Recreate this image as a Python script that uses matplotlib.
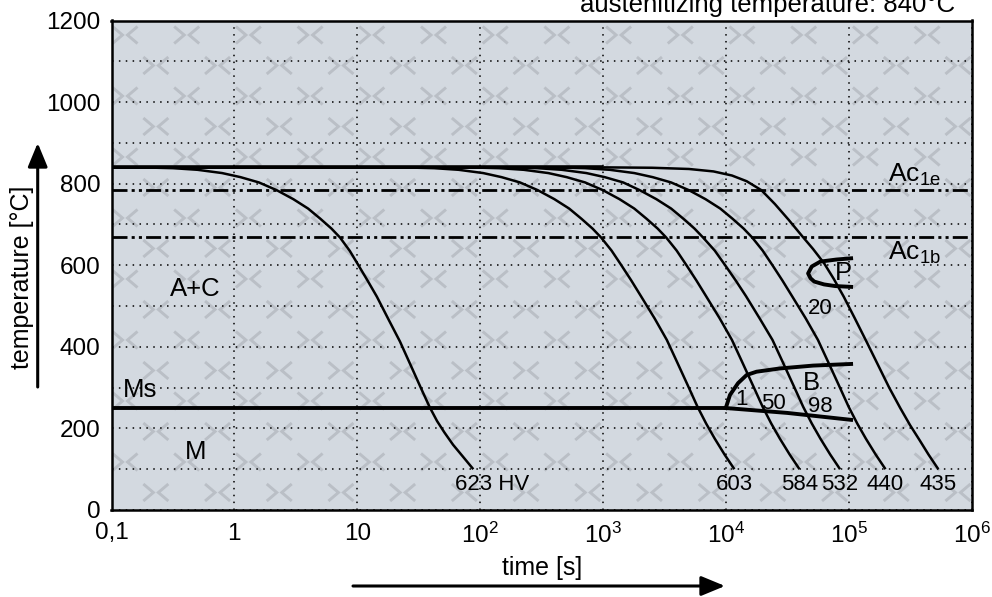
import matplotlib
matplotlib.use('Agg')
import matplotlib.pyplot as plt
import numpy as np
from matplotlib.collections import LineCollection

plt.rcParams['font.family'] = ['Liberation Sans', 'DejaVu Sans']
plt.rcParams['mathtext.fontset'] = 'custom'
plt.rcParams['mathtext.rm'] = 'Liberation Sans'
plt.rcParams['mathtext.default'] = 'regular'

# cooling curves: log10(time [s]) and temperature [C]
c623_lt = [-1, -0.7, -0.5, -0.3, -0.1, 0.05, 0.2, 0.345, 0.48, 0.6, 0.7, 0.79, 0.86, 0.94, 1.01,
           1.085, 1.16, 1.25, 1.348, 1.45, 1.52, 1.59, 1.65, 1.71, 1.78, 1.86, 1.945]
c623_T = [840, 839.5, 838, 834, 826, 816, 803, 784, 762, 739, 714, 690, 668, 635, 600,
          562, 523, 470, 413, 345, 298, 252, 218, 190, 160, 131, 100]
c603_lt = [-1, 1.0, 1.425, 1.625, 1.825, 2.025, 2.175, 2.325, 2.47, 2.605, 2.725, 2.825, 2.915, 2.985,
           3.07, 3.15, 3.23, 3.31, 3.42, 3.52, 3.6, 3.69, 3.77, 3.84, 3.91, 3.99, 4.07]
c584_lt = [-1, 1.5, 1.955, 2.155, 2.355, 2.555, 2.705, 2.855, 3.0, 3.135, 3.255, 3.355, 3.445, 3.515,
           3.6, 3.68, 3.76, 3.84, 3.95, 4.05, 4.13, 4.22, 4.30, 4.37, 4.44, 4.52, 4.60]
c532_lt = [-1, 1.9, 2.265, 2.465, 2.665, 2.865, 3.015, 3.165, 3.30, 3.435, 3.555, 3.655, 3.745, 3.815,
           3.91, 3.995, 4.08, 4.165, 4.275, 4.38, 4.46, 4.55, 4.63, 4.70, 4.77, 4.85, 4.93]
c440_lt = [-1, 2.3, 2.655, 2.855, 3.055, 3.255, 3.405, 3.555, 3.70, 3.835, 3.955, 4.055, 4.145, 4.215,
           4.30, 4.38, 4.46, 4.54, 4.65, 4.75, 4.83, 4.92, 5.00, 5.07, 5.14, 5.22, 5.30]
# the four middle curves share the same temperature readings
cmid_T = [840, 840, 839.5, 838, 834, 826, 816, 803, 784, 762, 739, 714, 690, 668,
          636, 600, 563, 524, 470, 417, 365, 306, 253, 212, 175, 136, 100]
c435_lt = [-1, 3.0, 3.4, 3.7, 3.9, 4.05, 4.17, 4.29, 4.40, 4.51, 4.62, 4.71, 4.80, 4.88,
           4.96, 5.05, 5.15, 5.24, 5.33, 5.42, 5.50, 5.58, 5.65, 5.73]
c435_T = [840, 840, 839, 836, 830, 820, 806, 784, 750, 712, 672, 640, 605, 566,
          523, 470, 410, 355, 300, 250, 208, 170, 136, 100]
hardness = ['623 HV', '603', '584', '532', '440', '435']

ac1e = 785
ac1b = 670
ms_lt = [-1, 4.0]
ms_T = [250, 250]
bf_lt = [4.0, 4.5, 5.02]
bf_T = [250, 238, 221]
bs_lt = [4.0, 4.034, 4.10, 4.17, 4.25, 4.44, 4.71, 5.02]
bs_T = [250, 282, 311, 331, 339, 347, 354, 358]
p_lt = [5.02, 4.9, 4.77, 4.70, 4.67, 4.69, 4.72, 4.8, 4.89, 5.02]
p_T = [617, 614, 609, 597, 580, 568, 560, 553, 549, 547]

xtick_vals = [0.1, 1, 10, 1e2, 1e3, 1e4, 1e5, 1e6]
xtick_labels = ['0,1', '1', '10', '$10^{2}$', '$10^{3}$', '$10^{4}$', '$10^{5}$', '$10^{6}$']

fig = plt.figure(figsize=(9.92, 5.97), dpi=100)
ax = fig.add_axes([111.5 / 992, 87 / 597, 860 / 992, 489.5 / 597])
ax.set_facecolor('#d3d9e0')

# background watermark "><"
segs = []
W, H = 860.0, 489.5
for i, yy in enumerate(np.arange(14.5, H + 20, 30.5)):
    off = 0 if i % 2 == 0 else 30.85
    for xx in np.arange(13.5 + off - 61.7, W + 30, 61.7):
        cy = H - yy
        segs.append([((xx - 12.5) / W, (cy + 8.5) / H), ((xx - 2.5) / W, cy / H), ((xx - 12.5) / W, (cy - 8.5) / H)])
        segs.append([((xx + 12.5) / W, (cy + 8.5) / H), ((xx + 2.5) / W, cy / H), ((xx + 12.5) / W, (cy - 8.5) / H)])
ax.add_collection(LineCollection(segs, colors='#babfc6', linewidths=2.1, transform=ax.transAxes,
                                 zorder=0.5, joinstyle='miter'))

ax.set_xscale('log')
ax.set_xlim(0.1, 1e6)
ax.set_ylim(0, 1200)
ax.set_xticks(xtick_vals)
ax.set_xticklabels(xtick_labels)
ax.xaxis.set_minor_locator(matplotlib.ticker.NullLocator())
ax.set_yticks(np.arange(0, 1201, 200))
ax.set_yticks(np.arange(0, 1201, 100), minor=True)
ax.tick_params(which='both', length=0, labelsize=17.5)
ax.tick_params(axis='x', pad=9)
ax.tick_params(axis='y', pad=8)
ax.grid(True, which='both', axis='y', color='black', linestyle=(0, (1, 3.5)), linewidth=1.1)
ax.grid(True, which='major', axis='x', color='black', linestyle=(0, (1, 3.5)), linewidth=1.1)
ax.set_axisbelow(True)
for s in ax.spines.values():
    s.set_linewidth(1.8)

curves = [(c623_lt, c623_T), (c603_lt, cmid_T), (c584_lt, cmid_T),
          (c532_lt, cmid_T), (c440_lt, cmid_T), (c435_lt, c435_T)]
for (lt, T), lab in zip(curves, hardness):
    t = 10 ** np.array(lt)
    ax.plot(t, T, color='black', lw=1.8, solid_capstyle='butt', solid_joinstyle='round')
    if lab.endswith('HV'):
        ax.annotate(lab, (t[-1], T[-1]), xytext=(-13, -11), textcoords='offset points',
                    ha='left', va='center', fontsize=16)
    else:
        ax.annotate(lab, (t[-1], T[-1]), xytext=(0, -11), textcoords='offset points',
                    ha='center', va='center', fontsize=16)
# common start at the austenitizing temperature, where the curves lie on top of each other
ax.plot(10 ** np.array(c435_lt[:2]), c435_T[:2], color='black', lw=2.6, solid_capstyle='butt')

dashdot2 = (0, (5.4, 1.5, 1.1, 1.5, 1.1, 1.5))
ax.axhline(ac1e, color='black', lw=2.0, linestyle=dashdot2)
ax.axhline(ac1b, color='black', lw=2.0, linestyle=dashdot2)

ax.plot(10 ** np.array(ms_lt), ms_T, color='black', lw=2.8)
ax.plot(10 ** np.array(bf_lt), bf_T, color='black', lw=2.8)
ax.plot(10 ** np.array(bs_lt), bs_T, color='black', lw=2.8, solid_joinstyle='round')
ax.plot(10 ** np.array(p_lt), p_T, color='black', lw=2.8, solid_joinstyle='round')

ax.text(0.48, 543, 'A+C', fontsize=18.5, ha='center', va='center')
ax.text(0.17, 294, 'Ms', fontsize=18.5, ha='center', va='center')
ax.text(0.48, 143, 'M', fontsize=18.5, ha='center', va='center')
ax.text(50000, 311, 'B', fontsize=18.5, ha='center', va='center')
ax.text(13500, 270, '1', fontsize=16, ha='center', va='center')
ax.text(24200, 262, '50', fontsize=16, ha='center', va='center')
ax.text(58500, 253, '98', fontsize=16, ha='center', va='center')
ax.text(90000, 580, 'P', fontsize=18.5, ha='center', va='center')
ax.text(58500, 494, '20', fontsize=16, ha='center', va='center')
ax.text(2.1e5, 805, 'Ac$_{1e}$', fontsize=19, ha='left', va='baseline')
ax.text(2.1e5, 613, 'Ac$_{1b}$', fontsize=19, ha='left', va='baseline')

fig.text(955 / 992, 1 - 12 / 597, 'austenitizing temperature: 840°C', fontsize=18.5,
         ha='right', va='baseline')
fig.text(22 / 992, 320 / 597, 'temperature [°C]', fontsize=18, rotation=90,
         ha='center', va='center')
fig.text(541.7 / 992, 29 / 597, 'time [s]', fontsize=18, ha='center', va='center')

arrow = dict(arrowstyle='-|>,head_length=1.45,head_width=0.6', color='black', lw=2.2, shrinkA=0, shrinkB=0)
ax.annotate('', xy=(37.7, 454), xytext=(37.7, 210), xycoords='figure pixels',
            textcoords='figure pixels', arrowprops=arrow, annotation_clip=False)
ax.annotate('', xy=(725, 11), xytext=(353, 11), xycoords='figure pixels',
            textcoords='figure pixels', arrowprops=arrow, annotation_clip=False)

fig.savefig('out.png', dpi=100)
